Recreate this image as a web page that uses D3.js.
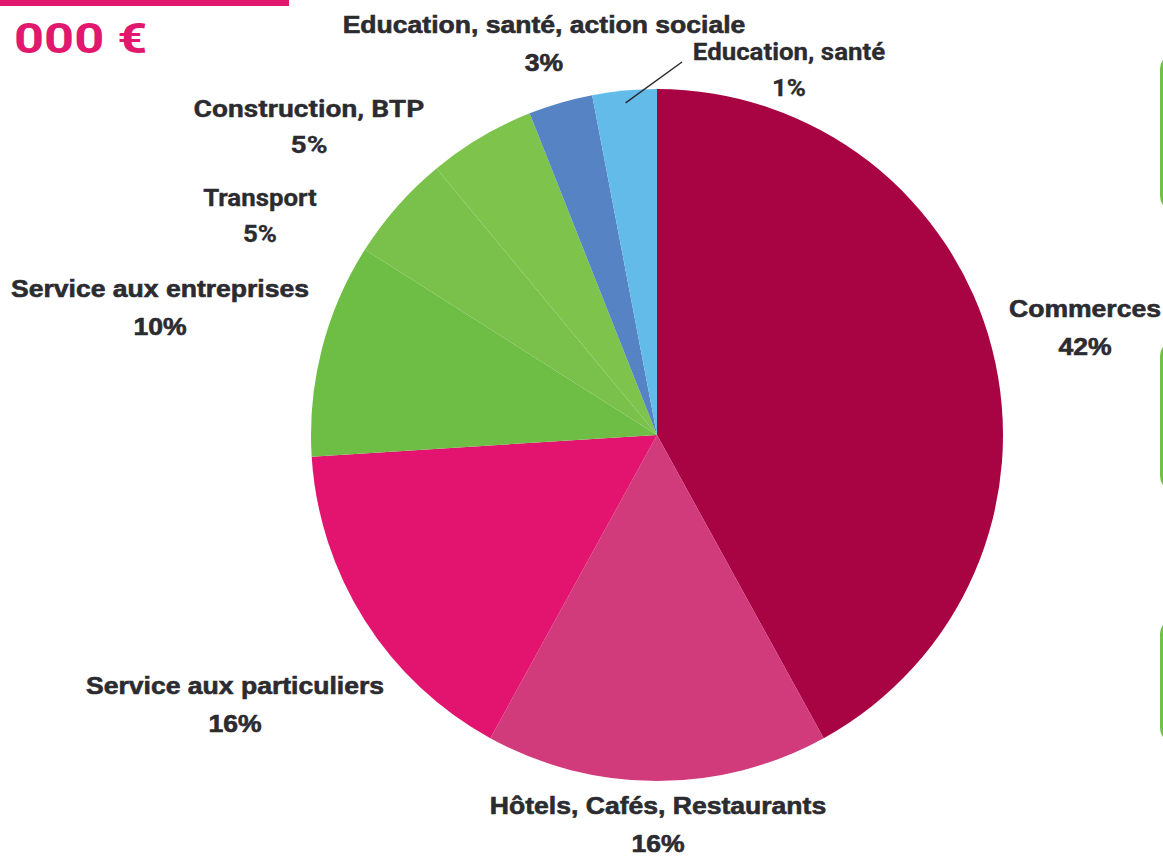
<!DOCTYPE html>
<html>
<head>
<meta charset="utf-8">
<script src="https://cdn.jsdelivr.net/npm/d3@7"></script>
<style>
  html, body { margin: 0; padding: 0; background: #fff; overflow: hidden; }
  svg { display: block; }
</style>
</head>
<body>
<div id="chart"></div>
<script>
// slices, clockwise from 12 o'clock
var sectors = ["Commerces", "Hôtels, Cafés, Restaurants", "Service aux particuliers",
    "Service aux entreprises", "Transport", "Construction, BTP",
    "Education, santé, action sociale", "Education, santé"]
var shares = [42, 16, 16, 10, 5, 5, 3, 3]
var shareLabels = ["42%", "16%", "16%", "10%", "5%", "5%", "3%", "1%"]
var sectorColors = ["#a80443", "#d13b7b", "#e2146f", "#6ebd45", "#7ac14b", "#7ec34c", "#5683c4", "#63bbe9"]

// label placement (centre x, baseline of first line, condensed font, horizontal stretch)
var labelPos = [
    [1085, 317, false, 1.13], [658, 814, false, 1.13], [235, 694, false, 1.13], [160, 297, false, 1.13],
    [260, 206, true, 1.1], [309, 117, true, 1.2], [544, 33, false, 1.13], [789, 60, true, 1.1]
]

const width = 1163
const height = 856
const cx = 657
const cy = 435
const radius = 346

const svg = d3.select('#chart').append('svg')
    .attr('width', width)
    .attr('height', height)

// header remnant top-left
svg.append('rect').attr('x', 0).attr('y', 0).attr('width', 289).attr('height', 6).attr('fill', '#e2176e')
svg.append('text')
    .attr('transform', 'translate(14,53) scale(1.22,1)')
    .attr('font-family', 'Roboto, sans-serif')
    .attr('font-weight', 700)
    .attr('font-size', 43)
    .attr('fill', '#e2176e')
    .text('000 €')

// green boxes cut at the right edge
var boxes = [[55, 210], [342, 490], [620, 742]]
boxes.forEach(b => {
    svg.append('rect')
        .attr('x', 1161.5).attr('y', b[0])
        .attr('width', 60).attr('height', b[1] - b[0])
        .attr('rx', 14)
        .attr('fill', 'none')
        .attr('stroke', '#72c04a')
        .attr('stroke-width', 3)
})

const pie = d3.pie().sort(null).value(d => d)
const arcs = pie(shares)
const arc = d3.arc().innerRadius(0).outerRadius(radius)

const g = svg.append('g').attr('transform', `translate(${cx},${cy})`)

g.selectAll('path.slice')
    .data(arcs)
    .enter().append('path')
    .attr('class', 'slice')
    .attr('d', arc)
    .attr('fill', (d, i) => sectorColors[i])

// leader line for the small light blue slice
const leadArc = d3.arc().innerRadius(radius * 0.964).outerRadius(radius * 0.964)
var last = arcs.length - 1
var p0 = leadArc.centroid(arcs[last])
svg.append('line')
    .attr('x1', cx + p0[0]).attr('y1', cy + p0[1])
    .attr('x2', 682).attr('y2', 62)
    .attr('stroke', '#2b2b30')
    .attr('stroke-width', 1.5)

// labels
sectors.forEach((name, i) => {
    var pos = labelPos[i]
    var condensed = pos[2]
    var lab = svg.append('g')
        .attr('font-weight', 700)
        .attr('fill', '#2b2b30')
        .attr('stroke', '#2b2b30')
        .attr('stroke-width', condensed ? 0.3 : 0.6)
        .attr('text-anchor', 'middle')
        .attr('font-family', condensed ? 'Roboto, sans-serif' : '"Liberation Sans", Arial, sans-serif')
        .attr('font-size', condensed ? 23.5 : 23.5)
    lab.append('text')
        .attr('transform', `translate(${pos[0]},${pos[1]}) scale(${pos[3]},1)`)
        .text(name)
    lab.append('text')
        .attr('transform', `translate(${pos[0]},${pos[1] + (condensed ? 36 : 38)}) scale(${pos[3]},1)`)
        .text(shareLabels[i])
})
</script>
</body>
</html>
